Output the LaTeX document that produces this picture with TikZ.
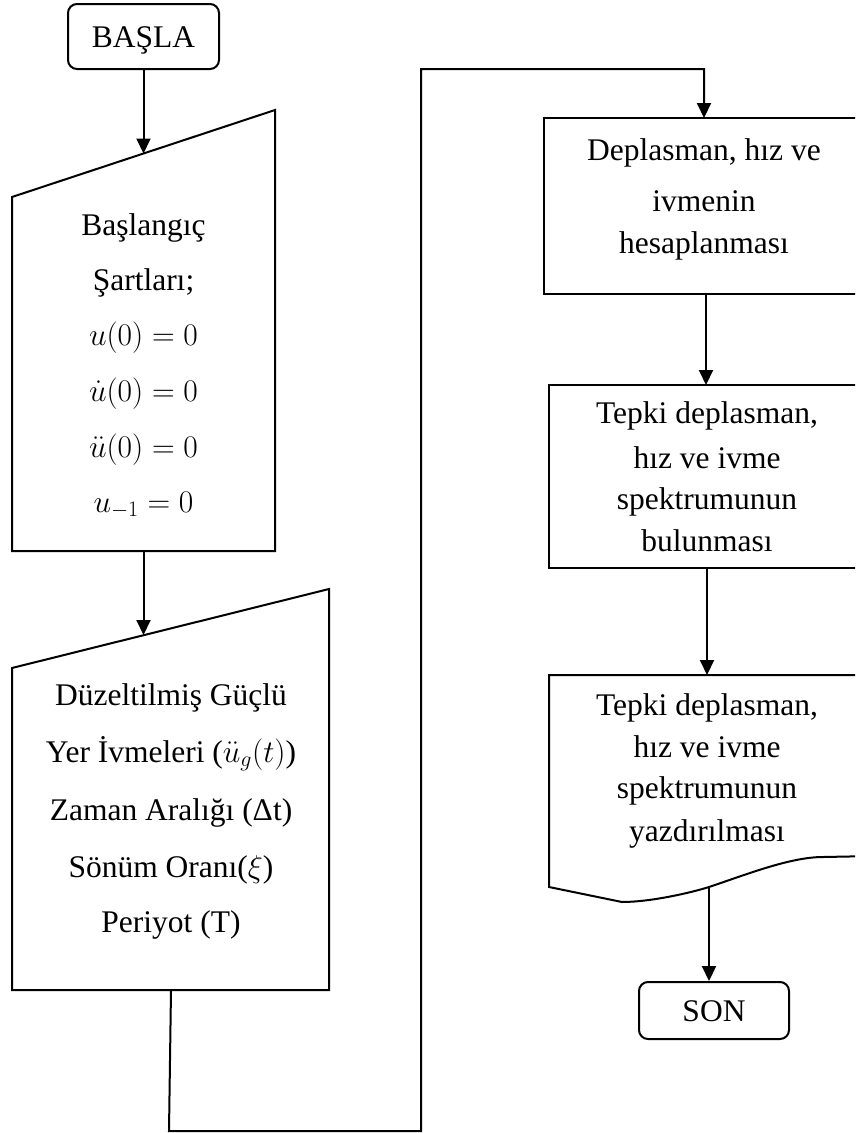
\RequirePackage{fix-cm}
\documentclass[tikz,border=0pt]{standalone}
\usepackage{fontspec}
\setmainfont{Liberation Serif}
\usetikzlibrary{arrows.meta}
\begin{document}
\begin{tikzpicture}[x=1pt,y=-1pt,
  shapeline/.style={draw, line width=2pt, line join=miter},
  conn/.style={line width=2pt},
  arr/.style={conn, -{Triangle[length=15pt,width=14pt]}},
  txt/.style={anchor=base, inner sep=0pt, font=\fontsize{31.5}{38}\selectfont},
  term/.style={draw, line width=2pt, rounded corners=9pt, inner sep=0pt,
    text height=22pt, text depth=0pt, font=\fontsize{31.5}{38}\selectfont}]
\useasboundingbox (0,0) rectangle (855,1133);
\clip (0,0) rectangle (855,1133);

% terminals
\node[term, minimum width=151pt, minimum height=65pt] (basla) at (143.5,36.5) {BAŞLA};
\node[term, minimum width=150pt, minimum height=57pt] (son) at (714,1010.5) {SON};

% input 1 (manual input)
\draw[shapeline] (12,197) -- (275,110) -- (275,551) -- (12,551) -- cycle;
\node[txt] (i1a) at (143.5,235) {Başlangıç};
\node[txt] (i1b) at (143.5,290) {Şartları;};
\node[txt] (i1c) at (143.5,345) {$u(0) = 0$};
\node[txt] (i1d) at (143.5,401) {$\dot{u}(0) = 0$};
\node[txt] (i1e) at (143.5,457) {$\ddot{u}(0) = 0$};
\node[txt] (i1f) at (143.5,512) {$u_{-1} = 0$};

% input 2 (manual input)
\draw[shapeline] (12,668) -- (329,589) -- (329,990) -- (12,990) -- cycle;
\node[txt] (i2a) at (171,705) {Düzeltilmiş Güçlü};
\node[txt] (i2b) at (171,762) {Yer İvmeleri ($\ddot{u}_g(t)$)};
\node[txt] (i2c) at (171,820) {Zaman Aralığı (Δt)};
\node[txt] (i2d) at (171,877) {Sönüm Oranı($\xi$)};
\node[txt] (i2e) at (171,932) {Periyot (T)};

% process 1
\draw[shapeline] (544,118) rectangle (875,294);
\node[txt] (p1a) at (704,160) {Deplasman, hız ve};
\node[txt] (p1b) at (704,211) {ivmenin};
\node[txt] (p1c) at (704,253) {hesaplanması};

% process 2
\draw[shapeline] (549,385) rectangle (875,568);
\node[txt] (p2a) at (707,423) {Tepki deplasman,};
\node[txt] (p2b) at (707,468) {hız ve ivme};
\node[txt] (p2c) at (707,509) {spektrumunun};
\node[txt] (p2d) at (707,551) {bulunması};

% document
\draw[shapeline] (875,675) -- (549,675) -- (549,887) -- (622,902)
  .. controls (650,902) and (690,893) .. (709,887)
  .. controls (745,875) and (790,857) .. (823,857) -- (875,856);
\node[txt] (d1) at (707,715) {Tepki deplasman,};
\node[txt] (d2) at (707,757) {hız ve ivme};
\node[txt] (d3) at (707,798) {spektrumunun};
\node[txt] (d4) at (707,841) {yazdırılması};

% connector end points
\coordinate (in1top) at (143.5,153.5);
\coordinate (in1bot) at (143.5,551);
\coordinate (in2top) at (143.5,635);
\coordinate (in2bot) at (171,990);
\coordinate (lb1) at (169,1131);
\coordinate (lb2) at (421,1131);
\coordinate (lt1) at (421,69);
\coordinate (lt2) at (704,69);
\coordinate (p1top) at (704,118);
\coordinate (p1bot) at (706,294);
\coordinate (p2top) at (706,385);
\coordinate (p2bot) at (707,568);
\coordinate (doctop) at (707,675);
\coordinate (docbot) at (709,887);

% connectors
\draw[arr] (basla.south) -- (in1top);
\draw[arr] (in1bot) -- (in2top);
\draw[arr, line join=miter] (in2bot) -- (lb1) -- (lb2) -- (lt1) -- (lt2) -- (p1top);
\draw[arr] (p1bot) -- (p2top);
\draw[arr] (p2bot) -- (doctop);
\draw[arr] (docbot) -- (docbot |- son.north);
\end{tikzpicture}
\end{document}
